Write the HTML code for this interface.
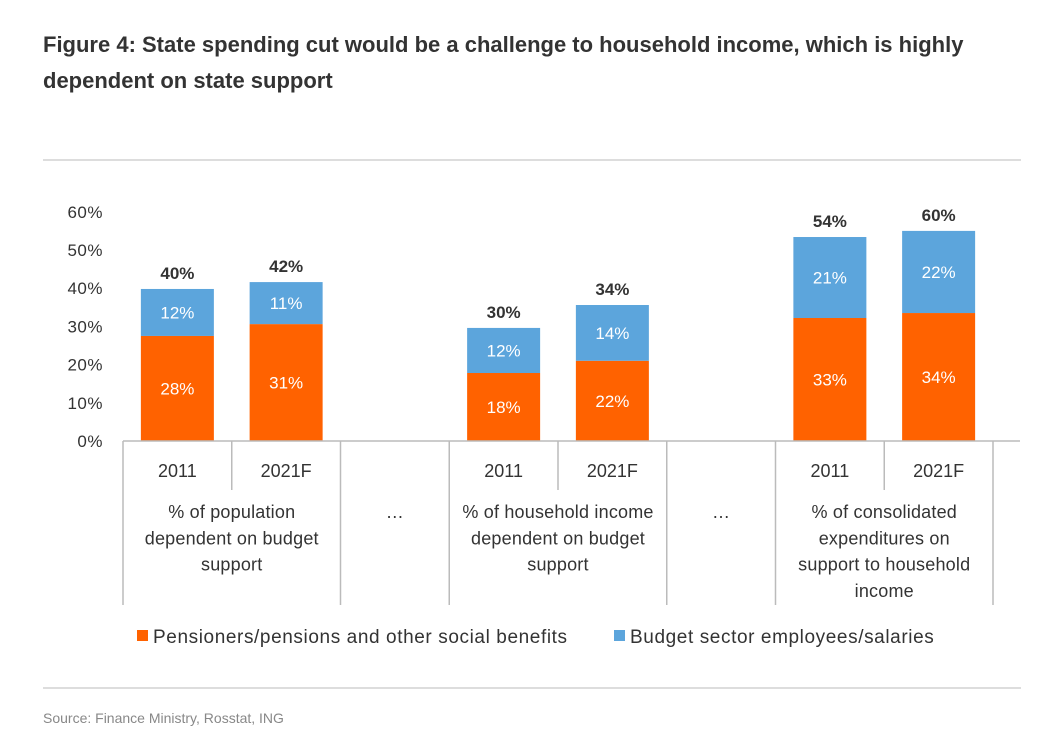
<!DOCTYPE html>
<html><head><meta charset="utf-8">
<style>
body{margin:0;background:#fff;width:1038px;height:744px;overflow:hidden;font-family:"Liberation Sans",sans-serif;}
.title{position:absolute;left:43px;top:27px;font-size:22px;font-weight:bold;color:#333;line-height:36px;width:990px}
.rule{position:absolute;left:43px;width:978px;height:2px;background:#ddd}
.src{position:absolute;left:43px;top:710px;font-size:14px;color:#888}
</style></head><body>
<div class="title">Figure 4: State spending cut would be a challenge to household income, which is highly dependent on state support</div>
<div class="rule" style="top:159px"></div>
<div class="rule" style="top:687px"></div>
<div class="src">Source: Finance Ministry, Rosstat, ING</div>
<svg id="chart" width="1038" height="744" style="position:absolute;left:0;top:0"></svg>
<script>
const years=["2011","2021F","","2011","2021F","","2011","2021F"];
const orange=[27.5,30.6,null,17.8,21.0,null,32.2,33.5];
const blue=[12.3,11.0,null,11.8,14.6,null,21.2,21.5];
const orangeLabels=["28%","31%","","18%","22%","","33%","34%"];
const blueLabels=["12%","11%","","12%","14%","","21%","22%"];
const totalLabels=["40%","42%","","30%","34%","","54%","60%"];
const yTicks=[0,10,20,30,40,50,60];
const groups=[["% of population","dependent on budget","support"],["…"],["% of household income","dependent on budget","support"],["…"],["% of consolidated","expenditures on","support to household","income"]];
const groupSpan=[[0,2],[2,3],[3,5],[5,6],[6,8]];
const svg=document.getElementById('chart');const NS='http://www.w3.org/2000/svg';
const x0=123,slot=108.75,yBase=441,pxPer=3.82;
const y=v=>yBase-v*pxPer;const xs=i=>x0+i*slot;
function mk(t,a,txt){const e=document.createElementNS(NS,t);for(const k in a)e.setAttribute(k,a[k]);if(txt!==undefined)e.textContent=txt;svg.appendChild(e);return e;}
yTicks.forEach(v=>{const t=mk('text',{x:103,y:y(v)+6,'text-anchor':'end','font-size':17,fill:'#333','letter-spacing':0.5},v+'%');

});
const bw=73;
years.forEach((yr,i)=>{
 if(orange[i]===null)return;
 const cx=xs(i)+slot/2;
 const r1=mk('rect',{x:cx-bw/2,y:y(orange[i]),width:bw,height:orange[i]*pxPer,fill:'#FF6200'});
 
 
 const r2=mk('rect',{x:cx-bw/2,y:y(orange[i]+blue[i]),width:bw,height:blue[i]*pxPer,fill:'#5CA5DC'});
 
 
 const l1=mk('text',{x:cx,y:y(orange[i]/2)+6,'text-anchor':'middle','font-size':17,fill:'#fff'},orangeLabels[i]);
 
 
 const l2=mk('text',{x:cx,y:y(orange[i]+blue[i]/2)+6,'text-anchor':'middle','font-size':17,fill:'#fff'},blueLabels[i]);
 
 
 const l3=mk('text',{x:cx,y:y(orange[i]+blue[i])-10,'text-anchor':'middle','font-size':17,'font-weight':'bold',fill:'#333'},totalLabels[i]);
 
 
 const yl=mk('text',{x:cx,y:477,'text-anchor':'middle','font-size':18,fill:'#333'},yr);
 
 
});
const ax=mk('line',{x1:x0,x2:1020,y1:yBase,y2:yBase,stroke:'#bbb','stroke-width':1.5});


for(let i=0;i<=8;i++){const full=[0,2,3,5,6,8].includes(i);
 const l=mk('line',{x1:xs(i),x2:xs(i),y1:yBase,y2:full?605:490,stroke:'#bbb','stroke-width':1.5});
 
 }
groups.forEach((g,gi)=>{const cx=(xs(groupSpan[gi][0])+xs(groupSpan[gi][1]))/2;
 g.forEach((ln,li)=>{const t=mk('text',{x:cx,y:518+li*26.3,'text-anchor':'middle','font-size':18,fill:'#333','letter-spacing':0.2},ln);
 
 });});
const leg=[["#FF6200","Pensioners/pensions and other social benefits",137],["#5CA5DC","Budget sector employees/salaries",614]];
leg.forEach(l=>{const r=mk('rect',{x:l[2],y:630,width:11,height:11,fill:l[0]});
 
 
 const t=mk('text',{x:l[2]+16,y:643,'font-size':19,fill:'#333','letter-spacing':0.6},l[1]);
 
 });
</script>
</body></html>
